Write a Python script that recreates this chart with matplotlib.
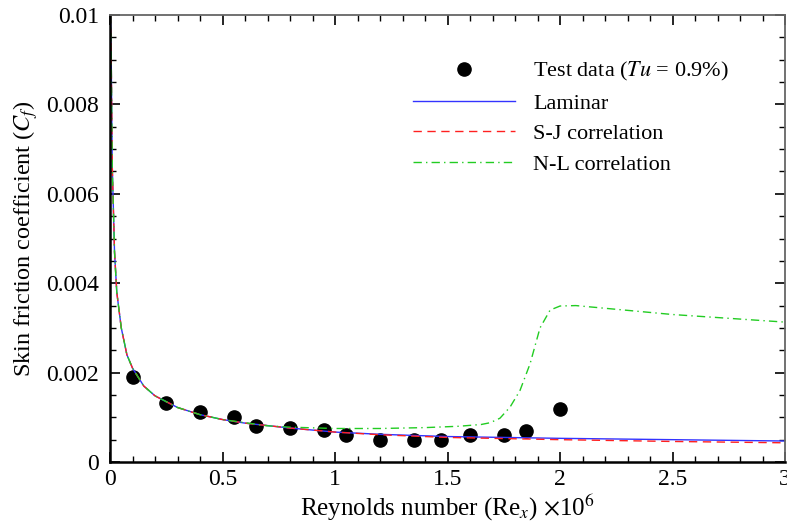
import matplotlib
matplotlib.use('Agg')
import matplotlib.pyplot as plt
from matplotlib.ticker import MultipleLocator

plt.rcParams['font.family'] = ['Liberation Serif', 'DejaVu Serif']
plt.rcParams['mathtext.fontset'] = 'stix'

# test data (Re_x in millions, Cf)
test_re = [0.1, 0.25, 0.4, 0.55, 0.65, 0.8, 0.95, 1.05, 1.2, 1.35, 1.47, 1.6, 1.75, 1.85, 2.0]
test_cf = [0.0019, 0.00132, 0.00112, 0.0010, 0.0008, 0.00076, 0.00072, 0.0006, 0.0005,
           0.0005, 0.0005, 0.0006, 0.0006, 0.0007, 0.00118]

# laminar curve
lam_re = [0.002, 0.005, 0.01, 0.02, 0.03, 0.05, 0.075, 0.1, 0.15, 0.2, 0.3, 0.4, 0.5,
          0.6, 0.8, 1.0, 1.2, 1.5, 2.0, 2.5, 3.0]
lam_cf = [0.0100, 0.0092, 0.0066, 0.0047, 0.0038, 0.0030, 0.0024, 0.0021, 0.0017, 0.00148,
          0.00122, 0.00106, 0.00095, 0.00087, 0.00076, 0.00067, 0.00062, 0.00057, 0.00053,
          0.0005, 0.00047]

# S-J correlation
sj_re = [0.002, 0.005, 0.01, 0.02, 0.03, 0.05, 0.075, 0.1, 0.15, 0.2, 0.3, 0.4, 0.5,
         0.6, 0.8, 1.0, 1.2, 1.5, 2.0, 2.5, 3.0]
sj_cf = [0.0100, 0.0092, 0.0066, 0.0047, 0.0038, 0.0030, 0.0024, 0.0021, 0.0017, 0.00148,
         0.00122, 0.00106, 0.00095, 0.00087, 0.00076, 0.00067, 0.00061, 0.00055, 0.0005,
         0.00046, 0.00043]

# N-L correlation
nl_re = [0.002, 0.005, 0.01, 0.02, 0.03, 0.05, 0.075, 0.1, 0.15, 0.2, 0.3, 0.4, 0.5,
         0.6, 0.7, 0.8, 1.0, 1.2, 1.4, 1.55, 1.65, 1.69, 1.733, 1.778, 1.822, 1.867,
         1.911, 1.956, 2.0, 2.07, 2.5, 3.0]
nl_cf = [0.0100, 0.0092, 0.0066, 0.0047, 0.0038, 0.0030, 0.0024, 0.0021, 0.0017, 0.00148,
         0.00122, 0.00106, 0.00095, 0.00088, 0.00081, 0.00078, 0.00075, 0.00075, 0.00077,
         0.0008, 0.00084, 0.00088, 0.00098, 0.00123, 0.0016, 0.0022, 0.0030, 0.0034,
         0.00349, 0.0035, 0.0033, 0.00313]

xticks = [0, 0.5, 1, 1.5, 2, 2.5, 3]
xlabels = ['0', '0.5', '1', '1.5', '2', '2.5', '3']
yticks = [0, 0.002, 0.004, 0.006, 0.008, 0.01]
ylabels = ['0', '0.002', '0.004', '0.006', '0.008', '0.01']

fig = plt.figure(figsize=(7.87, 5.22), dpi=100)
ax = fig.add_axes([0.1398, 0.1149, 0.8577, 0.8563])

ax.plot(test_re, test_cf, 'o', color='black', markersize=9.5, label='Test data ($Tu$ = 0.9%)')
ax.plot(lam_re, lam_cf, '-', color='#3333ff', lw=1.0, label='Laminar')
ax.plot(sj_re, sj_cf, '--', color='#ff2020', lw=1.0, dashes=(6, 4), label='S-J correlation')
ax.plot(nl_re, nl_cf, '-.', color='#22cc22', lw=1.0, dashes=(6, 3, 1, 3), label='N-L correlation')

ax.set_xlim(0, 3)
ax.set_ylim(0, 0.01)
ax.set_xticks(xticks)
ax.set_xticklabels(xlabels)
ax.set_yticks(yticks)
ax.set_yticklabels(ylabels)
ax.xaxis.set_minor_locator(MultipleLocator(0.1))
ax.yaxis.set_minor_locator(MultipleLocator(0.0005))
ax.tick_params(which='both', direction='in', top=True, right=True, labelsize=17)
ax.tick_params(which='major', length=7, width=1.2)
ax.tick_params(axis='x', which='major', pad=5)
ax.tick_params(axis='y', which='major', pad=8)
ax.tick_params(which='minor', length=4, width=1.0)

for s in ['left', 'bottom']:
    ax.spines[s].set_linewidth(1.8)
    ax.spines[s].set_color('black')
for s in ['top', 'right']:
    ax.spines[s].set_linewidth(1.3)
    ax.spines[s].set_color('#666666')

ax.set_xlabel('Reynolds number (Re$_x$) $\\times$10$^6$', fontsize=18, labelpad=2)
ax.set_ylabel('Skin friction coefficient ($C_f$)', fontsize=17.5, labelpad=4)

ax.legend(loc='upper left', bbox_to_anchor=(413 / 787, 1 - 60 / 522),
          bbox_transform=fig.transFigure, frameon=False, fontsize=16,
          handlelength=4.6, handletextpad=0.8, labelspacing=0.45,
          borderpad=0, borderaxespad=0)

fig.savefig('out.png', dpi=100)
